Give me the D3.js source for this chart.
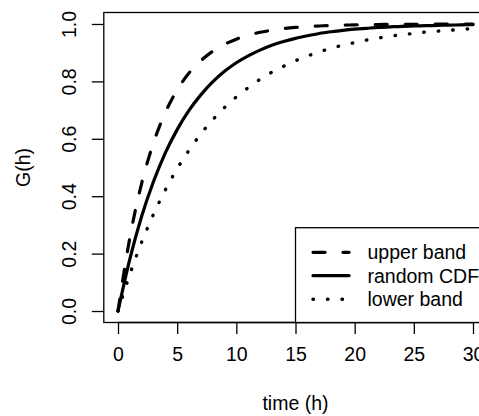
<!DOCTYPE html>
<html>
<head>
<meta charset="utf-8">
<script src="https://cdn.jsdelivr.net/npm/d3@7"></script>
<style>
  html, body { margin: 0; padding: 0; background: #fff; }
  svg { display: block; overflow: hidden; }
  text { font-family: "Liberation Sans", Arial, sans-serif; fill: #000; }
</style>
</head>
<body>
<svg id="main" width="479" height="416"></svg>
<script>
// data
var times = [0,1,2,3,4,5,6,7,8,9,10,11,12,13,14,15,16,17,18,19,20,21,22,23,24,25,26,27,28,29,30];
var upperBand = [0,0.255,0.445,0.586,0.692,0.770,0.829,0.872,0.905,0.929,0.947,0.961,0.971,0.978,0.984,0.988,0.991,0.993,0.995,0.996,0.997,0.998,0.998,0.999,0.999,0.999,0.999,1.0,1.0,1.0,1.0];
var randomCDF = [0,0.181,0.330,0.451,0.551,0.632,0.699,0.753,0.798,0.835,0.865,0.889,0.909,0.926,0.939,0.950,0.959,0.967,0.973,0.978,0.982,0.985,0.988,0.990,0.992,0.993,0.994,0.995,0.996,0.997,0.998];
var lowerBand = [0,0.128,0.240,0.337,0.422,0.496,0.560,0.617,0.666,0.709,0.746,0.778,0.807,0.832,0.853,0.872,0.888,0.903,0.915,0.926,0.935,0.944,0.951,0.957,0.963,0.967,0.972,0.975,0.978,0.981,0.984];

var xTicks = [0,5,10,15,20,25,30];
var yTicks = [0,0.2,0.4,0.6,0.8,1.0];
var legendLabels = ["upper band", "random CDF", "lower band"];

var svg = d3.select("svg#main");
var fontSize = 19.5;

// R style 4% padding on each side
var x = d3.scaleLinear().domain([-1.2, 31.2]).range([103.8, 487.2]);
var y = d3.scaleLinear().domain([-0.04, 1.04]).range([322.5, 12.5]);

var styles = [
  {dash: "12,18", cap: "round", width: 3.2},
  {dash: null, cap: "round", width: 3.2},
  {dash: "0.5,14", cap: "round", width: 3.4}
];
var series = [upperBand, randomCDF, lowerBand];

var line = d3.line()
  .x(function (d) { return x(d[0]); })
  .y(function (d) { return y(d[1]); })
  .curve(d3.curveMonotoneX);

series.forEach(function (vals, i) {
  var pts = times.map(function (t, j) { return [t, vals[j]]; });
  svg.append("path")
    .attr("d", line(pts))
    .attr("fill", "none")
    .attr("stroke", "#000")
    .attr("stroke-width", styles[i].width)
    .attr("stroke-linecap", styles[i].cap)
    .attr("stroke-dasharray", styles[i].dash);
});

// box
svg.append("rect")
  .attr("x", x(-1.2)).attr("y", y(1.04))
  .attr("width", x(31.2) - x(-1.2)).attr("height", y(-0.04) - y(1.04))
  .attr("fill", "none").attr("stroke", "#000").attr("stroke-width", 1.3);

// x axis
var xAxis = svg.append("g")
  .attr("transform", "translate(0," + y(-0.04) + ")")
  .call(d3.axisBottom(x).tickValues(xTicks).tickSize(11.5).tickSizeOuter(0).tickPadding(13));
xAxis.select(".domain").remove();
svg.append("line")
  .attr("x1", x(0)).attr("x2", x(30))
  .attr("y1", y(-0.04)).attr("y2", y(-0.04))
  .attr("stroke", "#000").attr("stroke-width", 1.3);
xAxis.selectAll("text").attr("font-size", fontSize).attr("font-family", "Liberation Sans, Arial, sans-serif").attr("fill", "#000");
xAxis.selectAll("line").attr("stroke-width", 1.3);

// y axis
var yAxis = svg.append("g")
  .attr("transform", "translate(" + x(-1.2) + ",0)")
  .call(d3.axisLeft(y).tickValues(yTicks).tickFormat(d3.format(".1f")).tickSize(12).tickSizeOuter(0));
yAxis.select(".domain").remove();
yAxis.selectAll("line").attr("stroke-width", 1.3);
yAxis.selectAll("text")
  .attr("font-size", fontSize)
  .attr("font-family", "Liberation Sans, Arial, sans-serif")
  .attr("fill", "#000")
  .attr("x", null).attr("dy", null)
  .attr("text-anchor", "middle")
  .attr("transform", "translate(-28,0) rotate(-90)");

// axis titles
svg.append("text")
  .attr("x", (x(-1.2) + x(31.2)) / 2).attr("y", 410)
  .attr("text-anchor", "middle").attr("font-size", fontSize)
  .text("time (h)");
svg.append("text")
  .attr("transform", "translate(29.5," + y(0.5) + ") rotate(-90)")
  .attr("text-anchor", "middle").attr("font-size", fontSize)
  .text("G(h)");

// legend (bottomright)
var lg = svg.append("g");
lg.append("rect")
  .attr("x", x(15)).attr("y", 227.7)
  .attr("width", 250).attr("height", y(-0.04) - 227.7)
  .attr("fill", "#fff").attr("stroke", "#000").attr("stroke-width", 1.3);
var rowY = [252.3, 275.7, 299.3];
legendLabels.forEach(function (lab, i) {
  lg.append("line")
    .attr("x1", 313).attr("x2", 349)
    .attr("y1", rowY[i]).attr("y2", rowY[i])
    .attr("stroke", "#000")
    .attr("stroke-width", styles[i].width)
    .attr("stroke-linecap", styles[i].cap)
    .attr("stroke-dasharray", styles[i].dash);
  lg.append("text")
    .attr("x", 367.5).attr("y", rowY[i] + 7)
    .attr("font-size", fontSize)
    .text(lab);
});
</script>
</body>
</html>
